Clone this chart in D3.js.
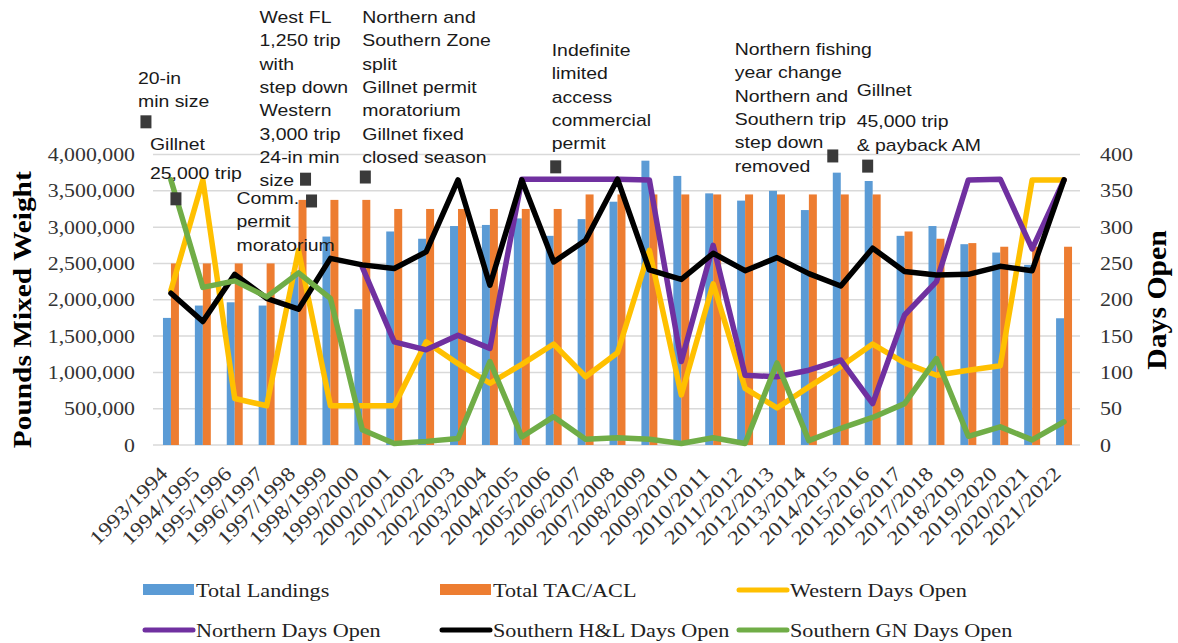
<!DOCTYPE html>
<html>
<head>
<meta charset="utf-8">
<script src="https://cdn.jsdelivr.net/npm/d3@7"></script>
<style>
  html, body { margin: 0; padding: 0; background: #fff; }
  svg { display: block; }
</style>
</head>
<body>
<svg id="chart" width="1178" height="643"></svg>
<script>
// ---- data ----
const seasons = [
  "1993/1994","1994/1995","1995/1996","1996/1997","1997/1998","1998/1999","1999/2000",
  "2000/2001","2001/2002","2002/2003","2003/2004","2004/2005","2005/2006","2006/2007",
  "2007/2008","2008/2009","2009/2010","2010/2011","2011/2012","2012/2013","2013/2014",
  "2014/2015","2015/2016","2016/2017","2017/2018","2018/2019","2019/2020","2020/2021","2021/2022"
];

// pounds, mixed weight (left axis)
const totalLandings = [
  1750000, 1920000, 1965000, 1920000, 2380000, 2870000, 1870000,
  2940000, 2840000, 3015000, 3030000, 3120000, 2880000, 3110000,
  3350000, 3915000, 3705000, 3465000, 3365000, 3500000, 3235000,
  3750000, 3635000, 2880000, 3015000, 2765000, 2650000, 2480000, 1745000
];
const totalTacAcl = [
  2500000, 2500000, 2500000, 2500000, 3375000, 3375000, 3375000,
  3250000, 3250000, 3250000, 3250000, 3250000, 3250000, 3450000,
  3450000, 3450000, 3450000, 3450000, 3450000, 3450000, 3450000,
  3450000, 3450000, 2940000, 2840000, 2780000, 2730000, 2730000, 2730000
];

// days open (right axis)
const westernDays = [
  213, 365, 64, 54, 268, 54, 54,
  54, 142, 112, 85, 111, 139, 94,
  127, 268, 69, 222, 78, 51, 80,
  108, 139, 113, 96, 103, 109, 365, 365
];
const northernDays = [
  null, null, null, null, null, null, 245,
  142, 131, 151, 133, 366, 366, 366,
  366, 365, 115, 275, 96, 94, 103,
  117, 57, 179, 225, 365, 366, 270, 365
];
const southernHLDays = [
  209, 170, 235, 202, 187, 257, 248,
  243, 266, 365, 220, 365, 252, 282,
  366, 241, 228, 264, 240, 258, 236,
  219, 271, 239, 234, 235, 246, 240, 365
];
const southernGNDays = [
  365, 217, 226, 204, 237, 202, 21,
  2, 5, 9, 115, 11, 39, 8,
  10, 8, 2, 10, 2, 113, 6,
  23, 38, 57, 119, 12, 25, 7, 32
];

const weightTicks = [0, 500000, 1000000, 1500000, 2000000, 2500000, 3000000, 3500000, 4000000];
const dayTicks = [0, 50, 100, 150, 200, 250, 300, 350, 400];

// management events, marked at a level on the days axis
const events = [
  { season: "1993/1994", level: 445, lines: ["20-in", "min size"] },
  { season: "1993/1994", level: 339, lines: ["Gillnet", "25,000 trip"] },
  { season: "1997/1998", level: 366, lines: ["West FL", "1,250 trip", "with", "step down", "Western", "3,000 trip", "24-in min", "size"] },
  { season: "1997/1998", level: 336, lines: ["Comm.", "permit", "moratorium"] },
  { season: "1999/2000", level: 369, lines: ["Northern and", "Southern Zone", "split", "Gillnet permit", "moratorium", "Gillnet fixed", "closed season"] },
  { season: "2005/2006", level: 383, lines: ["Indefinite", "limited", "access", "commercial", "permit"] },
  { season: "2014/2015", level: 398, lines: ["Northern fishing", "year change", "Northern and", "Southern trip", "step down", "removed"] },
  { season: "2015/2016", level: 384, lines: ["Gillnet", "45,000 trip", "& payback AM"] }
];

// ---- layout ----
const W = 1178, H = 643;
const plot = { left: 155, right: 1080, top: 154.5, bottom: 445 };
const SERIF = "'Liberation Serif', 'Times New Roman', serif";
const SANS = "'Liberation Sans', Arial, sans-serif";

const svg = d3.select("#chart");

const x = d3.scaleBand().domain(seasons).range([plot.left, plot.right]).paddingInner(0).paddingOuter(0);
const bw = x.bandwidth();
const xSeries = d3.scaleBand().domain(["landings", "tac"]).range([0, bw / 2]);
const yL = d3.scaleLinear().domain([0, 4000000]).range([plot.bottom, plot.top]);
const yR = d3.scaleLinear().domain([0, 400]).range([plot.bottom, plot.top]);
const cx = s => x(s) + bw / 2;

// text helper: glyphs drawn slightly wide along their baseline
function label(g, str, tx, ty, opts) {
  const o = Object.assign({ size: 18, family: SERIF, anchor: "start", rotate: 0, sx: 1.15, weight: "normal", fill: "#333" }, opts || {});
  return g.append("text")
    .attr("transform", `translate(${tx},${ty}) rotate(${o.rotate}) scale(${o.sx},1)`)
    .attr("text-anchor", o.anchor)
    .attr("font-family", o.family)
    .attr("font-size", o.size)
    .attr("font-weight", o.weight)
    .attr("fill", o.fill)
    .text(str);
}

// gridlines
const grid = svg.append("g");
grid.selectAll("line").data(weightTicks).join("line")
  .attr("x1", plot.left - 2).attr("x2", plot.right)
  .attr("y1", d => yL(d)).attr("y2", d => yL(d))
  .attr("stroke", "#d9d9d9").attr("stroke-width", 1.5);

// left axis labels
const leftAxis = svg.append("g");
const fmt = d3.format(",");
weightTicks.forEach(t => label(leftAxis, fmt(t), 135, yL(t) + 6.5, { anchor: "end", size: 18.5, sx: 1.18 }));

// right axis labels
const rightAxis = svg.append("g");
dayTicks.forEach(t => label(rightAxis, String(t), 1100, yR(t) + 6.5, { size: 19, sx: 1.16 }));

// category labels
const xAxis = svg.append("g");
seasons.forEach(s => label(xAxis, s, cx(s) - 2, 475, { anchor: "end", rotate: -45, size: 20, sx: 1.18 }));

// axis titles
label(svg, "Pounds Mixed Weight", 30.5, (plot.top + plot.bottom) / 2 + 10, { anchor: "middle", rotate: -90, size: 26, sx: 1.13, weight: "bold", fill: "#000" });
label(svg, "Days Open", 1166, 300, { anchor: "middle", rotate: -90, size: 27, sx: 1.1, weight: "bold", fill: "#000" });

// bars
const bars = svg.append("g");
bars.selectAll("rect.landings").data(totalLandings).join("rect")
  .attr("class", "landings")
  .attr("x", (d, i) => x(seasons[i]) + bw / 4 + xSeries("landings"))
  .attr("width", xSeries.bandwidth())
  .attr("y", d => yL(d))
  .attr("height", d => yL(0) - yL(d))
  .attr("fill", "#5b9bd5");
bars.selectAll("rect.tac").data(totalTacAcl).join("rect")
  .attr("class", "tac")
  .attr("x", (d, i) => x(seasons[i]) + bw / 4 + xSeries("tac"))
  .attr("width", xSeries.bandwidth())
  .attr("y", d => yL(d))
  .attr("height", d => yL(0) - yL(d))
  .attr("fill", "#ed7d31");

// day lines
const dayLine = d3.line()
  .defined(d => d != null)
  .x((d, i) => cx(seasons[i]))
  .y(d => yR(d));
const lineSeries = [
  { values: westernDays, color: "#ffc000" },
  { values: northernDays, color: "#7030a0" },
  { values: southernHLDays, color: "#000000" },
  { values: southernGNDays, color: "#70ad47" }
];
const lines = svg.append("g");
lineSeries.forEach(s => {
  lines.append("path")
    .attr("d", dayLine(s.values))
    .attr("fill", "none")
    .attr("stroke", s.color)
    .attr("stroke-width", 5.5)
    .attr("stroke-linejoin", "round")
    .attr("stroke-linecap", "round");
});

// event markers and notes
const eventLayout = [
  { dx: -25, tx: -33, ty: 84, gap: 0 },
  { dx: 5, tx: -21, ty: 150, gap: 6 },
  { dx: 7, tx: -39, ty: 23, gap: 0 },
  { dx: 13, tx: -62, ty: 204, gap: 0 },
  { dx: 3, tx: 0, ty: 23, gap: 0 },
  { dx: 2, tx: -2, ty: 56, gap: 0 },
  { dx: -8, tx: -106, ty: 55, gap: 0 },
  { dx: -5, tx: -16, ty: 96, gap: 8 }
];
const notes = svg.append("g");
events.forEach((e, i) => {
  const L = eventLayout[i];
  const c = cx(e.season);
  notes.append("rect")
    .attr("x", c + L.dx - 5.5).attr("y", yR(e.level) - 6.5)
    .attr("width", 11).attr("height", 13)
    .attr("fill", "#3a3a3a");
  e.lines.forEach((ln, j) => {
    label(notes, ln, c + L.tx, L.ty + j * 23.3 + (j > 0 ? L.gap : 0), { family: SANS, size: 17.2, sx: 1.13, fill: "#1a1a1a" });
  });
});

// legend
const legendItems = [
  { name: "Total Landings", color: "#5b9bd5", kind: "bar" },
  { name: "Total TAC/ACL", color: "#ed7d31", kind: "bar" },
  { name: "Western Days Open", color: "#ffc000", kind: "line" },
  { name: "Northern Days Open", color: "#7030a0", kind: "line" },
  { name: "Southern H&L Days Open", color: "#000000", kind: "line" },
  { name: "Southern GN Days Open", color: "#70ad47", kind: "line" }
];
const legend = svg.append("g");
const colX = [143, 440, 737];
const rowY = [590, 630];
legendItems.forEach((it, i) => {
  const lx = colX[i % 3], ly = rowY[Math.floor(i / 3)];
  if (it.kind === "bar") {
    legend.append("rect").attr("x", lx).attr("y", ly - 6).attr("width", 51).attr("height", 11).attr("fill", it.color);
  } else {
    legend.append("line").attr("x1", lx + 2).attr("x2", lx + 50).attr("y1", ly).attr("y2", ly)
      .attr("stroke", it.color).attr("stroke-width", 5).attr("stroke-linecap", "round");
  }
  label(legend, it.name, lx + 53, ly + 6.5, { size: 18.8, sx: 1.18, fill: "#222" });
});
</script>
</body>
</html>
